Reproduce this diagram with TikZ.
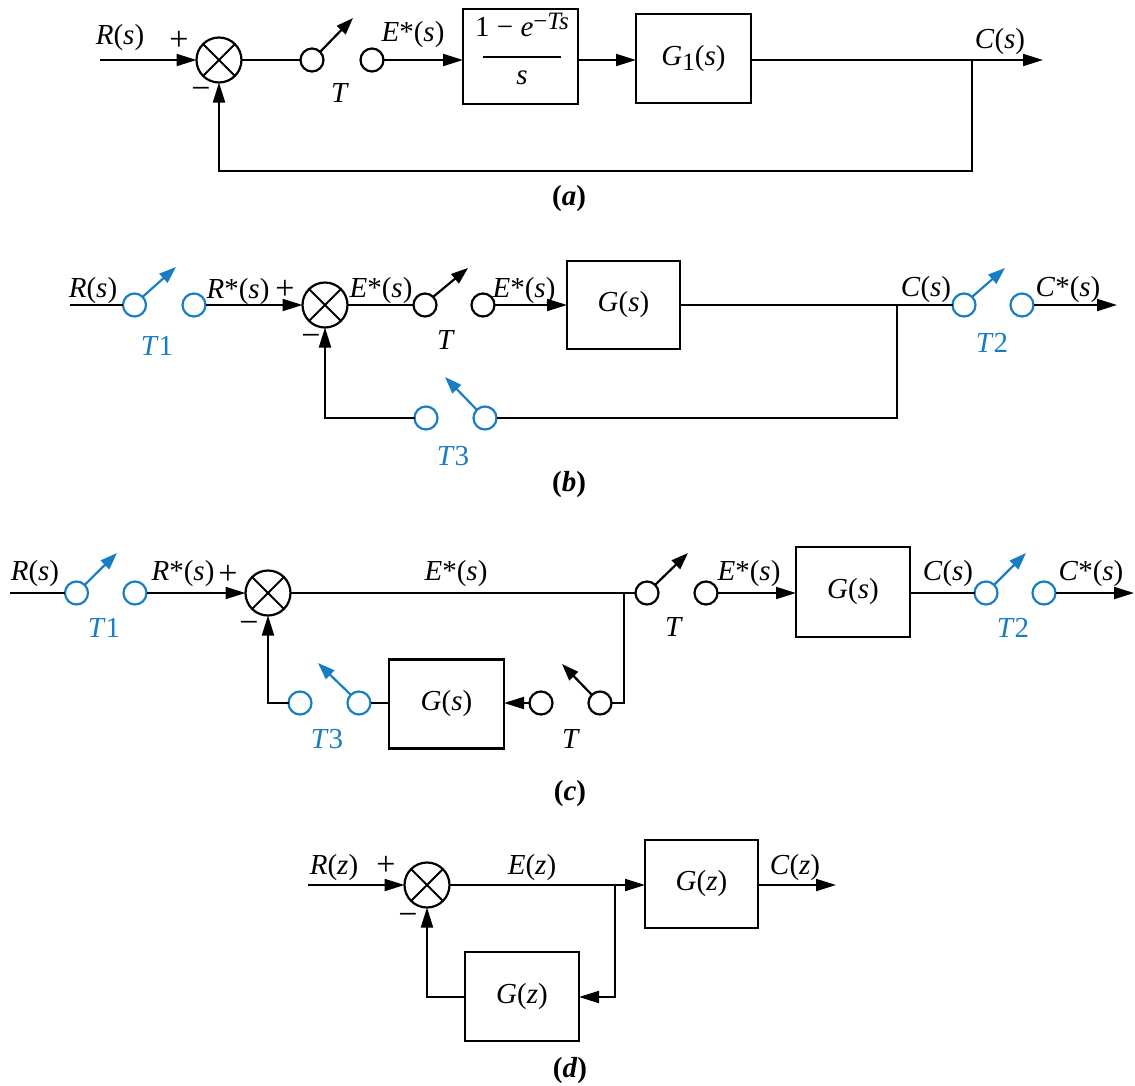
\documentclass[tikz,border=0pt]{standalone}
\usepackage{fontspec}
\setmainfont{Liberation Serif}
\usetikzlibrary{arrows.meta}
\definecolor{swblue}{RGB}{24,125,195}
\newcommand\fnc[2]{\textit{#1}(\textit{#2})}
\newcommand\fst[2]{\textit{#1}*(\textit{#2})}
\newcommand\capt[1]{\textbf{(\textit{#1})}}
\begin{document}
\begin{tikzpicture}[x=1pt,y=-1pt,
  font=\fontsize{29}{34}\selectfont,
  line width=2pt,
  >={Triangle[length=20pt,width=12pt]},
  blk/.style={draw,line width=2.8pt,inner sep=0pt,outer sep=0pt},
  sumj/.style={draw,circle,minimum size=45pt,inner sep=0pt,outer sep=0pt,line width=2.2pt},
  swc/.style={draw,circle,minimum size=23pt,inner sep=0pt,outer sep=0pt,line width=2.2pt},
  swb/.style={swc,draw=swblue},
  swarr/.style={-{Triangle[length=17pt,width=12pt]},line width=2.2pt},
  lbl/.style={inner sep=0pt,outer sep=0pt},
  sgn/.style={lbl,font=\fontsize{34}{34}\selectfont},
  blbl/.style={lbl,text=swblue},
]
\useasboundingbox (0,0) rectangle (1135,1085);

% ---------------- (a) ----------------
\coordinate (ain) at (100,60);
\node[sumj] (sa) at (219,60) {};
\draw (sa.north west) -- (sa.south east) (sa.north east) -- (sa.south west);
\node[swc] (a1) at (312,60) {};
\node[swc] (a2) at (372,60) {};
\coordinate (a1h) at (353,18);
\node[blk,minimum width=115pt,minimum height=95pt] (ba1) at (520.5,56.5) {};
\node[blk,minimum width=115pt,minimum height=89pt] (ba2) at (693.5,58.5)
  {\textit{G}\raisebox{-5pt}{\fontsize{25}{25}\selectfont 1}(\textit{s})};
\coordinate (ajn) at (972,60);
\coordinate (aout) at (1043,60);
\coordinate (afb) at (972,171);

\node[lbl] (ra) at (120,37.5) {\fnc{R}{s}};
\node[sgn] (pa) at (179,41) {+};
\node[sgn] (ma) at (201,93) {−};
\node[lbl] (ta) at (340,93.5) {\textit{T}};
\node[lbl] (ea) at (413,34.5) {\fst{E}{s}};
\node[lbl,anchor=base] (numa) at (522,36)
  {1 − \textit{e}\raisebox{7pt}{\fontsize{25}{25}\selectfont −\textit{Ts}}};
\node[lbl,anchor=base] (dena) at (522,84) {\textit{s}};
\draw (483,57) -- (561,57);
\node[lbl] (ca) at (1000,42) {\fnc{C}{s}};
\node[lbl] (capa) at (569,199) {\capt{a}};

\draw[->] (ain) -- (sa);
\draw (sa) -- (a1);
\draw[swarr] (a1.45) -- (a1h);
\draw[->] (a2) -- (a2 -| ba1.west);
\draw[->] (ba1.east |- ajn) -- (ba2.west |- ajn);
\draw[->] (ba2.east |- ajn) -- (aout);
\draw[->] (ajn) -- (afb) -| (sa.south);

% ---------------- (b) ----------------
\coordinate (bin) at (70,305);
\node[swb] (b1) at (134.5,305) {};
\node[swb] (b2) at (194,305) {};
\coordinate (b1h) at (176,267);
\node[sumj] (sb) at (325,305) {};
\draw (sb.north west) -- (sb.south east) (sb.north east) -- (sb.south west);
\node[swc] (b3) at (425,305) {};
\node[swc] (b4) at (483,305) {};
\coordinate (b3h) at (468,268);
\node[blk,minimum width=113pt,minimum height=88pt] (bg) at (623.5,305) {\fnc{G}{s}};
\coordinate (bjn) at (897,305);
\node[swb] (b5) at (964,305) {};
\node[swb] (b6) at (1022,305) {};
\coordinate (b5h) at (1005,268);
\coordinate (bout) at (1117,305);
\coordinate (bfb) at (897,418);
\node[swb] (b7) at (485,418) {};
\node[swb] (b8) at (426,418) {};
\coordinate (b7h) at (445,377);
\coordinate (bfl) at (325,418);

\draw (bin) -- (b1);
\draw[swarr,swblue] (b1.45) -- (b1h);
\draw[->] (b2) -- (sb);
\draw (sb) -- (b3);
\draw[swarr] (b3.45) -- (b3h);
\draw[->] (b4) -- (bg);
\draw (bg) -- (bjn) -- (b5);
\draw[swarr,swblue] (b5.45) -- (b5h);
\draw[->] (b6) -- (bout);
\draw (bjn) -- (bfb) -- (b7);
\draw[swarr,swblue] (b7.135) -- (b7h);
\draw[->] (b8) -- (bfl) -- (sb.south);

\node[lbl] (rb) at (93,291) {\fnc{R}{s}};
\node[blbl] (t1b) at (157,346) {\textit{T}1};
\node[lbl] (rsb) at (238,292) {\fst{R}{s}};
\node[sgn] (pb) at (285,290) {+};
\node[sgn] (mb) at (311,340) {−};
\node[lbl] (eb) at (381,291) {\fst{E}{s}};
\node[lbl] (tb) at (446,340) {\textit{T}};
\node[lbl] (eb2) at (524,291) {\fst{E}{s}};
\node[lbl] (cb) at (926,290) {\fnc{C}{s}};
\node[blbl] (t2b) at (992,343) {\textit{T}2};
\node[lbl] (csb) at (1068,290) {\fst{C}{s}};
\node[blbl] (t3b) at (453,456) {\textit{T}3};
\node[lbl] (capb) at (569,485) {\capt{b}};

% ---------------- (c) ----------------
\coordinate (cin) at (10,593);
\node[swb] (c1) at (76.5,593) {};
\node[swb] (c2) at (135,593) {};
\coordinate (c1h) at (117,553);
\node[sumj] (sc) at (268,593) {};
\draw (sc.north west) -- (sc.south east) (sc.north east) -- (sc.south west);
\coordinate (cjn) at (624,593);
\node[swc] (c3) at (647,593) {};
\node[swc] (c4) at (706,593) {};
\coordinate (c3h) at (688,553);
\node[blk,minimum width=114pt,minimum height=90pt] (cg) at (853,592) {\fnc{G}{s}};
\node[swb] (c5) at (986,593) {};
\node[swb] (c6) at (1044,593) {};
\coordinate (c5h) at (1026,553);
\coordinate (cout) at (1134,593);
\coordinate (cfb) at (624,703);
\node[swc] (c7) at (600,703) {};
\node[swc] (c8) at (541,703) {};
\coordinate (c7h) at (562,664);
\node[blk,minimum width=115pt,minimum height=89pt] (cg2) at (446.5,704) {\fnc{G}{s}};
\node[swb] (c9) at (359,703) {};
\node[swb] (c10) at (300,703) {};
\coordinate (c9h) at (318,663);
\coordinate (cfl) at (268,703);

\draw (cin) -- (c1);
\draw[swarr,swblue] (c1.45) -- (c1h);
\draw[->] (c2) -- (sc);
\draw (sc) -- (cjn) -- (c3);
\draw[swarr] (c3.45) -- (c3h);
\draw[->] (c4) -- (c4 -| cg.west);
\draw (cg.east |- cjn) -- (c5);
\draw[swarr,swblue] (c5.45) -- (c5h);
\draw[->] (c6) -- (cout);
\draw (cjn) -- (cfb) -- (c7);
\draw[swarr] (c7.135) -- (c7h);
\draw[->] (c8) -- (c8 -| cg2.east);
\draw (cg2.west |- c9) -- (c9);
\draw[swarr,swblue] (c9.135) -- (c9h);
\draw[->] (c10) -- (cfl) -- (sc.south);

\node[lbl] (rc) at (35,574) {\fnc{R}{s}};
\node[blbl] (t1c) at (104,628) {\textit{T}1};
\node[lbl] (rsc) at (183,574) {\fst{R}{s}};
\node[sgn] (pc) at (228,575) {+};
\node[sgn] (mc) at (249,627) {−};
\node[lbl] (ec) at (456,574) {\fst{E}{s}};
\node[lbl] (tc) at (674,627) {\textit{T}};
\node[lbl] (ec2) at (749,574) {\fst{E}{s}};
\node[lbl] (cc) at (948,574) {\fnc{C}{s}};
\node[blbl] (t2c) at (1013,628) {\textit{T}2};
\node[lbl] (csc) at (1091,574) {\fst{C}{s}};
\node[blbl] (t3c) at (327,739) {\textit{T}3};
\node[lbl] (tc2) at (571,739) {\textit{T}};
\node[lbl] (capc) at (570,794) {\capt{c}};

% ---------------- (d) ----------------
\coordinate (din) at (308,885);
\node[sumj] (sd) at (427,885) {};
\draw (sd.north west) -- (sd.south east) (sd.north east) -- (sd.south west);
\coordinate (djn) at (615,885);
\node[blk,minimum width=113pt,minimum height=88pt] (dg) at (701.5,884) {\fnc{G}{z}};
\coordinate (dout) at (836,885);
\coordinate (dfb) at (615,997);
\node[blk,minimum width=114pt,minimum height=89pt] (dg2) at (522,996.5) {\fnc{G}{z}};
\coordinate (dfl) at (427,997);

\draw[->] (din) -- (sd);
\draw[->] (sd) -- (sd -| dg.west);
\draw[->] (dg.east |- sd) -- (dout);
\draw[->] (djn) -- (dfb) -- (dfb -| dg2.east);
\draw[->] (dg2.west |- dfb) -- (dfl) -- (sd.south);

\node[lbl] (rd) at (334,867.5) {\fnc{R}{z}};
\node[sgn] (pd) at (386,866) {+};
\node[sgn] (md) at (408,919) {−};
\node[lbl] (ed) at (532,867.5) {\fnc{E}{z}};
\node[lbl] (cd) at (795,867.5) {\fnc{C}{z}};
\node[lbl] (capd) at (570,1071) {\capt{d}};
\end{tikzpicture}
\end{document}
